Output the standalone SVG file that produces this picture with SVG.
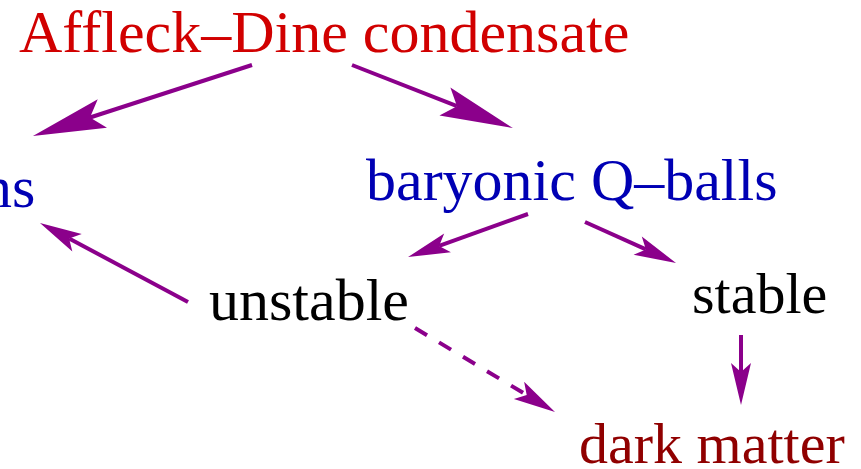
<svg xmlns="http://www.w3.org/2000/svg" width="861" height="469" viewBox="0 0 861 469">
<style>
text{font-family:"Liberation Serif","Times New Roman",serif;font-size:60px}
.sm{font-size:58px}
.red{fill:#d10000}.blue{fill:#0000b4}.black{fill:#000}.dred{fill:#900000}
.c{stroke:#8b008b;stroke-width:4;fill:none}
.big{marker-end:url(#mb)}.small{marker-end:url(#ms)}
.dash{stroke-dasharray:14 14}
</style>
<defs>
<marker id="mb" markerUnits="userSpaceOnUse" orient="auto" refX="0" refY="0" markerWidth="80" markerHeight="40" viewBox="-15 -17 80 34" overflow="visible">
<path d="M60,0 L-13,-15 L0,0 L-13,15 Z" fill="#8b008b"/>
</marker>
<marker id="ms" markerUnits="userSpaceOnUse" orient="auto" refX="0" refY="0" markerWidth="50" markerHeight="30" viewBox="-10 -12 50 24" overflow="visible">
<path d="M33,0 L-9,-10 L0,0 L-9,10 Z" fill="#8b008b"/>
</marker>
</defs>
<g id="connectors">
<line class="c big" x1="252" y1="65" x2="90" y2="117.5"/>
<line class="c big" x1="352" y1="65" x2="457" y2="106.2"/>
<line class="c small" x1="188" y1="302" x2="69.1" y2="238.5"/>
<line class="c small" x1="528" y1="214" x2="439.1" y2="245.9"/>
<line class="c small" x1="585" y1="222" x2="645.9" y2="249.4"/>
<line class="c small" x1="741" y1="335" x2="741" y2="372"/>
<line class="c small dash" x1="415" y1="328" x2="526.7" y2="395"/>
</g>
<g id="affleck-dine"><text class="red" x="19" y="52">Affleck–Dine condensate</text></g>
<g id="ns"><text class="blue" x="-18" y="207">ns</text></g>
<g id="baryonic-qballs"><text class="blue" x="366" y="200">baryonic Q–balls</text></g>
<g id="unstable"><text class="black" x="209" y="320">unstable</text></g>
<g id="stable"><text class="black sm" x="692" y="313">stable</text></g>
<g id="dark-matter"><text class="dred sm" x="579" y="463">dark matter</text></g>
</svg>
